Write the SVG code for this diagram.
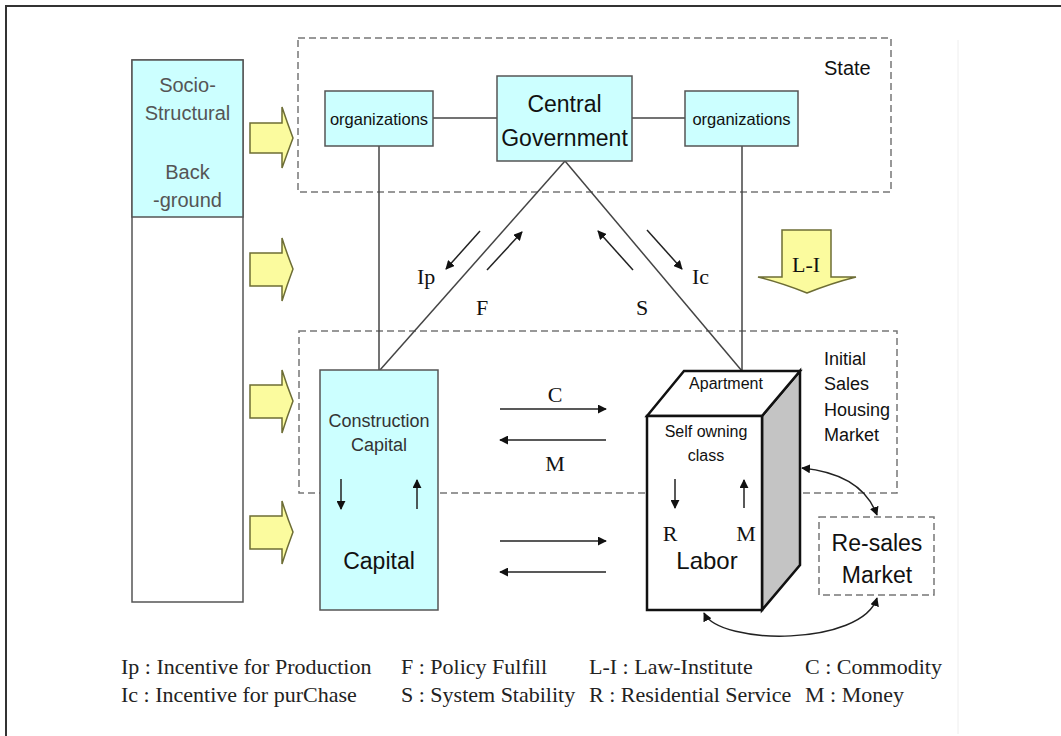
<svg xmlns="http://www.w3.org/2000/svg" width="1061" height="736" viewBox="0 0 1061 736">
<defs>
<marker id="ah" viewBox="0 0 10 10" refX="9" refY="5" markerWidth="9" markerHeight="9" markerUnits="userSpaceOnUse" orient="auto-start-reverse">
<path d="M0,0 L10,5 L0,10 Z" fill="#111"/>
</marker>
<style>
.frame{stroke:#333;stroke-width:2;fill:none}
.box{fill:#ccffff;stroke:#555;stroke-width:1.5}
.dash{fill:none;stroke:#777;stroke-width:1.5;stroke-dasharray:7,4}
.line{stroke:#444;stroke-width:1.5;fill:none}
.arr{stroke:#222;stroke-width:1.5;fill:none;marker-end:url(#ah)}
.arr2{stroke:#222;stroke-width:1.5;fill:none;marker-start:url(#ah);marker-end:url(#ah)}
.yel{fill:#fbfb9e;stroke:#6d6d35;stroke-width:1.5}
.sans{font-family:"Liberation Sans",Arial,sans-serif;fill:#111}
.serif{font-family:"Liberation Serif","Times New Roman",serif;fill:#111}
.mid{text-anchor:middle}
</style>
</defs>
<rect width="1061" height="736" fill="#fff"/>
<g id="frame">
<path class="frame" d="M6,736 V6 H1061"/>
<line x1="958" y1="40" x2="958" y2="734" stroke="#eee" stroke-width="1"/>
</g>

<g id="socio-structural">
<rect x="132" y="60" width="111" height="542" fill="#fff" stroke="#555" stroke-width="1.5"/>
<rect class="box" x="132" y="60" width="111" height="157"/>
<g class="sans mid" font-size="20" style="fill:#555">
<text x="187.5" y="92">Socio-</text>
<text x="187.5" y="120">Structural</text>
<text x="187.5" y="179">Back</text>
<text x="187.5" y="207">-ground</text>
</g>
</g>

<g id="influence-arrows">
<path class="yel" d="M250,123 H282 V107 Q287,122 293,138 Q287,154 282,168 V153 H250 Z"/>
<path class="yel" d="M250,253 H282 V238 Q287,254 293,269 Q287,285 282,301 V286 H250 Z"/>
<path class="yel" d="M250,385 H282 V370 Q287,386 293,401 Q287,417 282,433 V418 H250 Z"/>
<path class="yel" d="M250,516 H282 V501 Q287,517 293,532 Q287,548 282,564 V549 H250 Z"/>
</g>

<g id="state">
<rect class="dash" x="298" y="38" width="593" height="154"/>
<text class="sans" x="824" y="75" font-size="20">State</text>
</g>

<g id="initial-sales-market">
<rect class="dash" x="299" y="331" width="598" height="162"/>
<g class="sans" font-size="18">
<text x="824" y="365">Initial</text>
<text x="824" y="390">Sales</text>
<text x="824" y="416">Housing</text>
<text x="824" y="441">Market</text>
</g>
</g>

<g id="connectors">
<line class="line" x1="433" y1="118" x2="497" y2="118"/>
<line class="line" x1="632" y1="118" x2="685" y2="118"/>
<line class="line" x1="379" y1="146" x2="379" y2="370"/>
<line class="line" x1="742" y1="146" x2="742" y2="371"/>
<line class="line" x1="565" y1="161" x2="380" y2="370"/>
<line class="line" x1="565" y1="161" x2="742" y2="371"/>
<line class="arr" x1="480" y1="231" x2="446" y2="269"/>
<line class="arr" x1="487" y1="270" x2="522" y2="232"/>
<line class="arr" x1="633" y1="270" x2="598" y2="231"/>
<line class="arr" x1="647" y1="230" x2="682" y2="269"/>
<line class="arr" x1="500" y1="409" x2="606" y2="409"/>
<line class="arr" x1="606" y1="440" x2="500" y2="440"/>
<line class="arr" x1="500" y1="541" x2="606" y2="541"/>
<line class="arr" x1="606" y1="572" x2="500" y2="572"/>
<path class="arr2" d="M802,468 Q862,474 877,515"/>
<path class="arr2" d="M704,613 C720,646 862,646 877,598"/>
</g>

<g id="connector-labels" class="serif" font-size="22">
<text x="417" y="284">Ip</text>
<text x="476" y="315">F</text>
<text x="636" y="315">S</text>
<text x="692" y="284">Ic</text>
<text class="mid" x="555" y="402">C</text>
<text class="mid" x="555" y="471">M</text>
</g>

<g id="law-institute">
<path class="yel" d="M782,230 H831 V277 H856 Q832,283 807,293 Q782,283 758,277 H782 Z"/>
<text class="serif mid" x="806" y="272" font-size="22">L-I</text>
</g>

<g id="org-left">
<rect class="box" x="325" y="91" width="108" height="55"/>
<text class="sans mid" x="379" y="125" font-size="16.5">organizations</text>
</g>

<g id="central-government">
<rect class="box" x="497" y="76" width="135" height="85"/>
<text class="sans mid" x="564.5" y="112" font-size="23">Central</text>
<text class="sans mid" x="564.5" y="146" font-size="23">Government</text>
</g>

<g id="org-right">
<rect class="box" x="685" y="91" width="113" height="55"/>
<text class="sans mid" x="741.5" y="125" font-size="16.5">organizations</text>
</g>

<g id="capital">
<rect class="box" x="320" y="370" width="118" height="240"/>
<text class="sans mid" x="379" y="427" font-size="18" style="fill:#333">Construction</text>
<text class="sans mid" x="379" y="451" font-size="18" style="fill:#333">Capital</text>
<line class="arr" x1="341" y1="479" x2="341" y2="509"/>
<line class="arr" x1="417" y1="509" x2="417" y2="480"/>
<text class="sans mid" x="379" y="569" font-size="23">Capital</text>
</g>

<g id="apartment">
<path d="M762,416 L800,371 V565 L762,610 Z" fill="#c4c4c4" stroke="#111" stroke-width="2.5" stroke-linejoin="miter"/>
<path d="M647,416 L684,371 H800 L762,416 Z" fill="#fff" stroke="#111" stroke-width="2.5"/>
<rect x="647" y="416" width="115" height="194" fill="#fff" stroke="#111" stroke-width="2.5"/>
<text class="sans mid" x="726" y="389" font-size="16">Apartment</text>
<text class="sans mid" x="706" y="437" font-size="16">Self owning</text>
<text class="sans mid" x="706" y="461" font-size="16">class</text>
<line class="arr" x1="675" y1="479" x2="675" y2="508"/>
<line class="arr" x1="744" y1="508" x2="744" y2="480"/>
<text class="serif mid" x="670" y="541" font-size="22">R</text>
<text class="serif mid" x="746" y="541" font-size="22">M</text>
<text class="sans mid" x="707" y="569" font-size="24">Labor</text>
</g>

<g id="resales-market">
<rect class="dash" x="819" y="517" width="115" height="78"/>
<text class="sans mid" x="877" y="551" font-size="23">Re-sales</text>
<text class="sans mid" x="877" y="583" font-size="23">Market</text>
</g>

<g id="legend" class="serif" font-size="22" style="fill:#222">
<text x="121" y="674">Ip : Incentive for Production</text>
<text x="401" y="674">F : Policy Fulfill</text>
<text x="589" y="674">L-I : Law-Institute</text>
<text x="805" y="674">C : Commodity</text>
<text x="121" y="702">Ic : Incentive for purChase</text>
<text x="401" y="702">S : System Stability</text>
<text x="589" y="702">R : Residential Service</text>
<text x="805" y="702">M : Money</text>
</g>
</svg>
